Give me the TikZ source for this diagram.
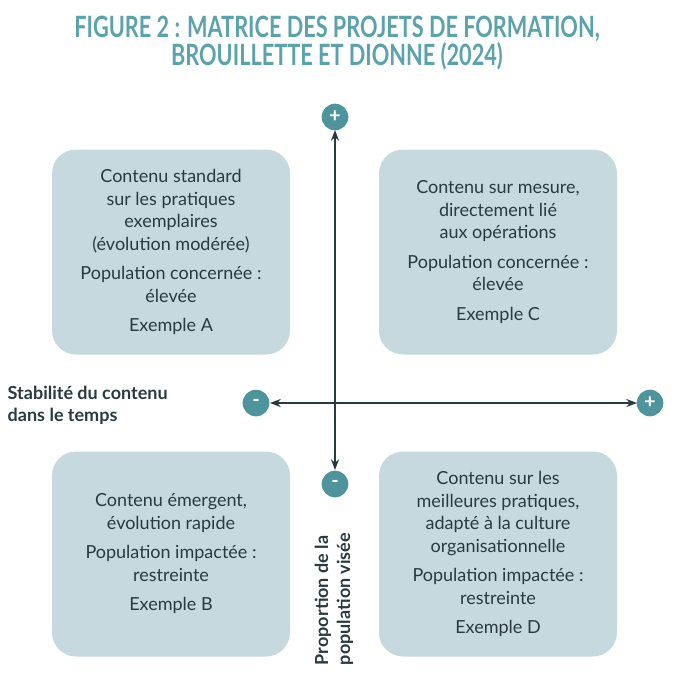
\documentclass[tikz,border=0pt]{standalone}
\usepackage{fontspec}
\setmainfont{Lato}
\usetikzlibrary{arrows.meta}
\definecolor{teal1}{HTML}{5AA3AC}
\definecolor{teal2}{HTML}{4E949D}
\definecolor{boxfill}{HTML}{C5D9DF}
\definecolor{axis}{HTML}{263A40}
\definecolor{txt}{HTML}{2A3A40}
\tikzset{
  quad/.style={fill=boxfill, rounded corners=18pt, minimum width=178.5pt, minimum height=153.75pt, text=txt, align=center, font=\fontsize{13.5}{17}\selectfont},
  sign/.style={circle, fill=teal2, text=white, minimum size=20pt, inner sep=0pt, font=\bfseries\fontsize{15}{15}\selectfont},
  axlabel/.style={text=txt, font=\bfseries\fontsize{13.5}{16.5}\selectfont},
}
\begin{document}
\begin{tikzpicture}[x=0.75pt,y=-0.75pt]
\useasboundingbox (0,0) rectangle (674,694);
% title
\node[text=teal1, font=\bfseries\fontsize{22}{21}\selectfont, align=center, xscale=0.74, transform shape] (title) at (337,43) {FIGURE 2 : MATRICE DES PROJETS DE FORMATION,\\BROUILLETTE ET DIONNE (2024)};
% quadrants
\node[quad] (qa) at (171,252) {Contenu standard\\sur les pratiques\\exemplaires\\(évolution modérée)\\[5pt]Population concernée :\\élevée\\[5pt]Exemple A};
\node[quad] (qc) at (498,252) {Contenu sur mesure,\\directement lié\\aux opérations\\[5pt]Population concernée :\\élevée\\[5pt]Exemple C};
\node[quad] (qb) at (171,554) {Contenu émergent,\\évolution rapide\\[5pt]Population impactée :\\restreinte\\[5pt]Exemple B};
\node[quad] (qd) at (498,554) {Contenu sur les\\meilleures pratiques,\\adapté à la culture\\organisationnelle\\[5pt]Population impactée :\\restreinte\\[5pt]Exemple D};
% axes
\coordinate (vtop) at (335,130);
\coordinate (vbot) at (335,470);
\coordinate (hl) at (270,403);
\coordinate (hr) at (637,403);
\draw[axis, line width=1.8pt, {Stealth[length=8pt]}-{Stealth[length=8pt]}] (vbot) -- (vtop);
\draw[axis, line width=1.8pt, {Stealth[length=8pt]}-{Stealth[length=8pt]}] (hl) -- (hr);
\node[sign] (vplus) at (335,117) {+};
\node[sign] (vminus) at (335,484) {-};
\node[sign] (hminus) at (256,403) {-};
\node[sign] (hplus) at (650,403) {+};
% axis labels
\node[axlabel, align=left, anchor=west] (hlab) at (3,405) {Stabilité du contenu\\dans le temps};
\node[axlabel, align=left, rotate=90] (vlab) at (334,599) {Proportion de la\\population visée};
\end{tikzpicture}
\end{document}
